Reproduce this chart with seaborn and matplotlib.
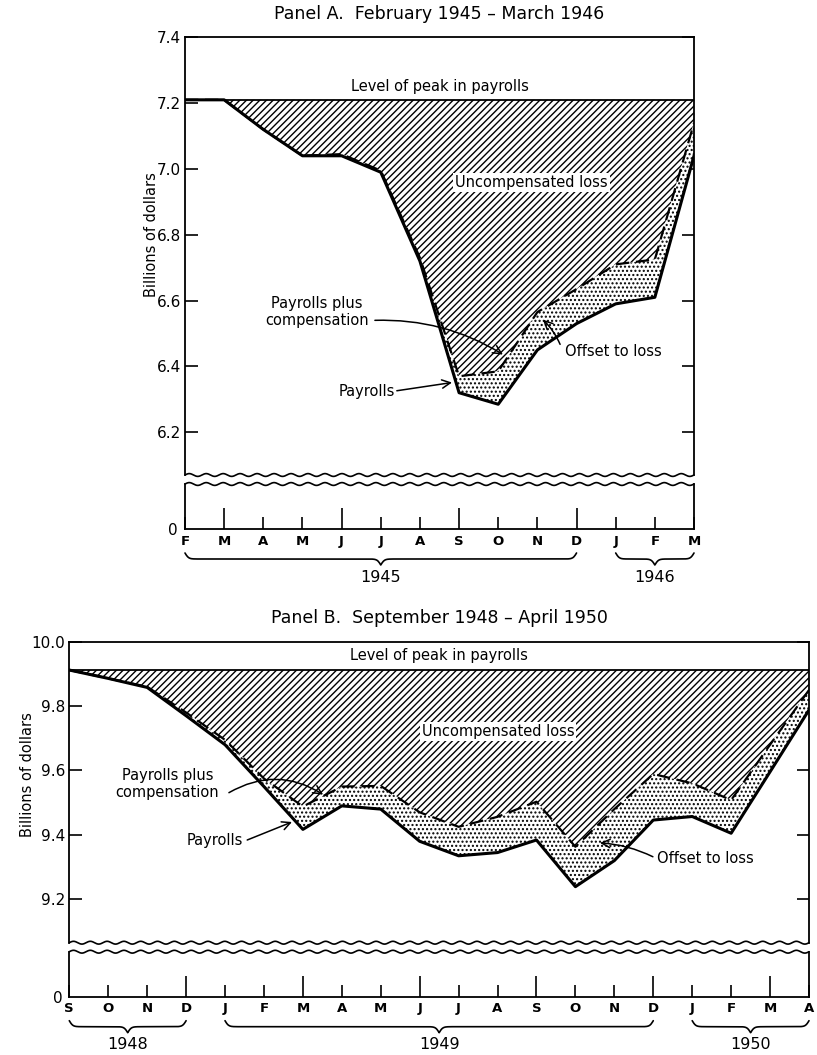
import numpy as np
import matplotlib
matplotlib.use("Agg")
import matplotlib.pyplot as plt
import matplotlib.transforms as mtransforms
import seaborn as sns

sns.set_theme(style="white")
plt.rcParams['font.family'] = ['DejaVu Sans']
plt.rcParams['hatch.linewidth'] = 1.0
plt.rcParams['axes.linewidth'] = 1.3
for k in ["text.color", "axes.labelcolor", "xtick.color", "ytick.color", "axes.edgecolor"]:
    plt.rcParams[k] = "black"

# ---------------- data ----------------
# Panel A: February 1945 - March 1946 (billions of dollars)
months_a = ["F", "M", "A", "M", "J", "J", "A", "S", "O", "N", "D", "J", "F", "M"]
quarter_a = [1, 4, 7, 10]          # positions of Mar, Jun, Sep, Dec
payrolls_a = [7.21, 7.21, 7.12, 7.04, 7.04, 6.99, 6.72, 6.32, 6.285, 6.45, 6.53, 6.59, 6.61, 7.04]
payrolls_comp_a = [7.21, 7.21, 7.12, 7.04, 7.045, 6.995, 6.73, 6.37, 6.385, 6.565, 6.635, 6.71, 6.725, 7.14]
peak_a = 7.21
yticks_a = [6.2, 6.4, 6.6, 6.8, 7.0, 7.2, 7.4]
years_a = ["1945", "1946"]
year_first_a = [0, 11]
year_last_a = [10, 13]

# Panel B: September 1948 - April 1950
months_b = ["S", "O", "N", "D", "J", "F", "M", "A", "M", "J", "J", "A", "S", "O", "N", "D", "J", "F", "M", "A"]
quarter_b = [3, 6, 9, 12, 15, 18]
payrolls_b = [9.912, 9.886, 9.858, 9.77, 9.68, 9.55, 9.417, 9.49, 9.48, 9.38, 9.335, 9.345, 9.384, 9.239,
              9.32, 9.446, 9.457, 9.405, 9.596, 9.788]
payrolls_comp_b = [9.912, 9.886, 9.86, 9.78, 9.695, 9.575, 9.488, 9.55, 9.552, 9.47, 9.425, 9.456, 9.503, 9.363,
                   9.48, 9.589, 9.56, 9.508, 9.68, 9.85]
peak_b = 9.912
yticks_b = [9.2, 9.4, 9.6, 9.8, 10.0]
years_b = ["1948", "1949", "1950"]
year_first_b = [0, 4, 16]
year_last_b = [3, 15, 19]

FIG_W, FIG_H, DPI = 8.17, 10.55, 100
fig = plt.figure(figsize=(FIG_W, FIG_H), dpi=DPI)


def px_rect(left, right, top, bottom):
    W, H = FIG_W * DPI, FIG_H * DPI
    return [left / W, 1 - bottom / H, (right - left) / W, (bottom - top) / H]


def wavy(ax, yfrac, n_periods, amp_px=1.4):
    h_px = ax.get_position().height * FIG_H * DPI
    t = np.linspace(0, 1, 3000)
    ax.plot(t, yfrac + amp_px / h_px * np.sin(2 * np.pi * n_periods * t),
            transform=ax.transAxes, color="black", lw=1.2, clip_on=False)


def brace(ax, x0, x1, ytop, depth, beta=22.0):
    trans = mtransforms.blended_transform_factory(ax.transData, ax.transAxes)
    xm = 0.5 * (x0 + x1)
    xh = np.linspace(x0, xm, 300)
    yh = 1 / (1 + np.exp(-beta * (xh - x0))) + 1 / (1 + np.exp(-beta * (xh - xm)))
    xs = np.concatenate([xh, 2 * xm - xh[::-1][1:]])
    ys = np.concatenate([yh, yh[::-1][1:]])
    ys = ytop - depth * (ys - 0.5)
    ax.plot(xs, ys, transform=trans, color="black", lw=1.2, clip_on=False)


ARROW = "->,head_length=0.5,head_width=0.25"


def arrow(ax, start, end, rad):
    ax.annotate("", xy=end, xytext=start,
                arrowprops=dict(arrowstyle=ARROW, lw=1.1, color="black",
                                connectionstyle=f"arc3,rad={rad}", shrinkA=0, shrinkB=0), zorder=7)


def panel(rect_top, rect_bot, months, quarter_idx, pay, comp, peak, ylim, yticks,
          years, yfirst, ylast, title, title_y, ylab_x, ylab_y, n_waves, annots):
    x = np.arange(len(months))
    ax = fig.add_axes(rect_top)
    axb = fig.add_axes(rect_bot)
    # regions
    ax.fill_between(x, comp, peak, facecolor="white", edgecolor="black", hatch="/////", linewidth=0, zorder=1)
    ax.fill_between(x, pay, comp, facecolor="white", edgecolor="black", hatch="....", linewidth=0, zorder=1)
    ax.axhline(peak, color="black", lw=1.3, zorder=3)
    sns.lineplot(x=x, y=comp, ax=ax, color="black", linewidth=1.6, linestyle=(0, (6, 3)),
                 estimator=None, sort=False, zorder=4)
    sns.lineplot(x=x, y=pay, ax=ax, color="black", linewidth=2.2, estimator=None, sort=False, zorder=5)
    ax.set_xlim(0, len(months) - 1)
    ax.set_ylim(*ylim)
    ax.set_yticks(yticks)
    ax.set_yticklabels([f"{v:.1f}" for v in yticks], fontsize=11)
    ax.tick_params(axis="y", direction="in", length=9, width=1.2, left=True, right=True, pad=3)
    ax.set_xticks([])
    ax.set_xlabel("")
    ax.set_ylabel("")
    ax.spines["bottom"].set_visible(False)
    wavy(ax, 0.0, n_waves)

    # lower (zero) section
    axb.set_xlim(0, len(months) - 1)
    axb.set_ylim(0, 1)
    axb.spines["top"].set_visible(False)
    axb.set_yticks([0])
    axb.set_yticklabels(["0"], fontsize=11)
    axb.tick_params(axis="y", length=0, pad=5)
    minor_idx = [i for i in range(len(months)) if i not in quarter_idx]
    axb.set_xticks(quarter_idx)
    axb.set_xticklabels([months[i] for i in quarter_idx], fontsize=9.5, fontweight="bold")
    axb.set_xticks(minor_idx, minor=True)
    axb.set_xticklabels([months[i] for i in minor_idx], minor=True, fontsize=9.5, fontweight="bold")
    axb.tick_params(axis="x", which="major", direction="in", length=15, width=1.2, pad=4, bottom=True)
    axb.tick_params(axis="x", which="minor", direction="in", length=8.5, width=1.2, pad=4, bottom=True)
    wavy(axb, 1.0, n_waves)

    hb = axb.get_position().height * FIG_H * DPI
    tr = mtransforms.blended_transform_factory(axb.transData, axb.transAxes)
    for lab, a, b in zip(years, yfirst, ylast):
        brace(axb, a, b, -24 / hb, 12 / hb)
        axb.text(0.5 * (a + b), -48 / hb, lab, transform=tr,
                 ha="center", va="center", fontsize=11.5)

    # annotations
    ax.text(0.5, annots["level"], "Level of peak in payrolls",
            transform=mtransforms.blended_transform_factory(ax.transAxes, ax.transData),
            ha="center", va="center", fontsize=10.5)
    ux, uy = annots["uncomp"]
    ax.text(ux, uy, "Uncompensated loss", ha="center", va="center", fontsize=10.5, zorder=6,
            bbox=dict(facecolor="white", edgecolor="none", pad=1.5))
    (tx, ty), s, e, rad = annots["ppc"]
    ax.text(tx, ty, "Payrolls plus\ncompensation", ha="center", va="center", fontsize=10.5,
            linespacing=1.15, zorder=6)
    arrow(ax, s, e, rad)
    (tx, ty), s, e, rad = annots["pay"]
    ax.text(tx, ty, "Payrolls", ha="right", va="center", fontsize=10.5, zorder=6)
    arrow(ax, s, e, rad)
    (tx, ty), s, e, rad = annots["off"]
    ax.text(tx, ty, "Offset to loss", ha="left", va="center", fontsize=10.5, zorder=6)
    arrow(ax, s, e, rad)

    cx = rect_top[0] + rect_top[2] / 2
    fig.text(cx, title_y, title, ha="center", va="center", fontsize=12.5)
    fig.text(ylab_x, ylab_y, "Billions of dollars", rotation=90, ha="center", va="center", fontsize=10.5)
    return ax, axb


annots_a = {
    "level": 7.25,
    "uncomp": (8.85, 6.96),
    "ppc": ((3.37, 6.565), (4.85, 6.54), (8.12, 6.436), -0.15),
    "pay": ((5.36, 6.323), (5.41, 6.326), (6.82, 6.351), 0.0),
    "off": ((9.71, 6.445), (9.58, 6.467), (9.14, 6.542), 0.1),
}
panel(px_rect(185, 694, 37.3, 475), px_rect(185, 694, 484, 529),
      months_a, quarter_a, payrolls_a, payrolls_comp_a, peak_a, (6.07, 7.4), yticks_a,
      years_a, year_first_a, year_last_a,
      "Panel A.  February 1945 \u2013 March 1946", 1 - 14 / 1055, 151 / 817, 1 - 235 / 1055, 30, annots_a)

annots_b = {
    "level": 9.956,
    "uncomp": (11.01, 9.72),
    "ppc": ((2.52, 9.558), (4.10, 9.531), (6.52, 9.525), -0.3),
    "pay": ((4.46, 9.382), (4.57, 9.384), (5.72, 9.44), 0.0),
    "off": ((15.1, 9.325), (14.99, 9.332), (13.63, 9.375), 0.1),
}
panel(px_rect(69.3, 809, 641.7, 942.7), px_rect(69.3, 809, 951.7, 996.7),
      months_b, quarter_b, payrolls_b, payrolls_comp_b, peak_b, (9.065, 10.0), yticks_b,
      years_b, year_first_b, year_last_b,
      "Panel B.  September 1948 \u2013 April 1950", 1 - 618 / 1055, 28 / 817, 1 - 775 / 1055, 44, annots_b)

fig.savefig("out.png", dpi=DPI, facecolor="white")
